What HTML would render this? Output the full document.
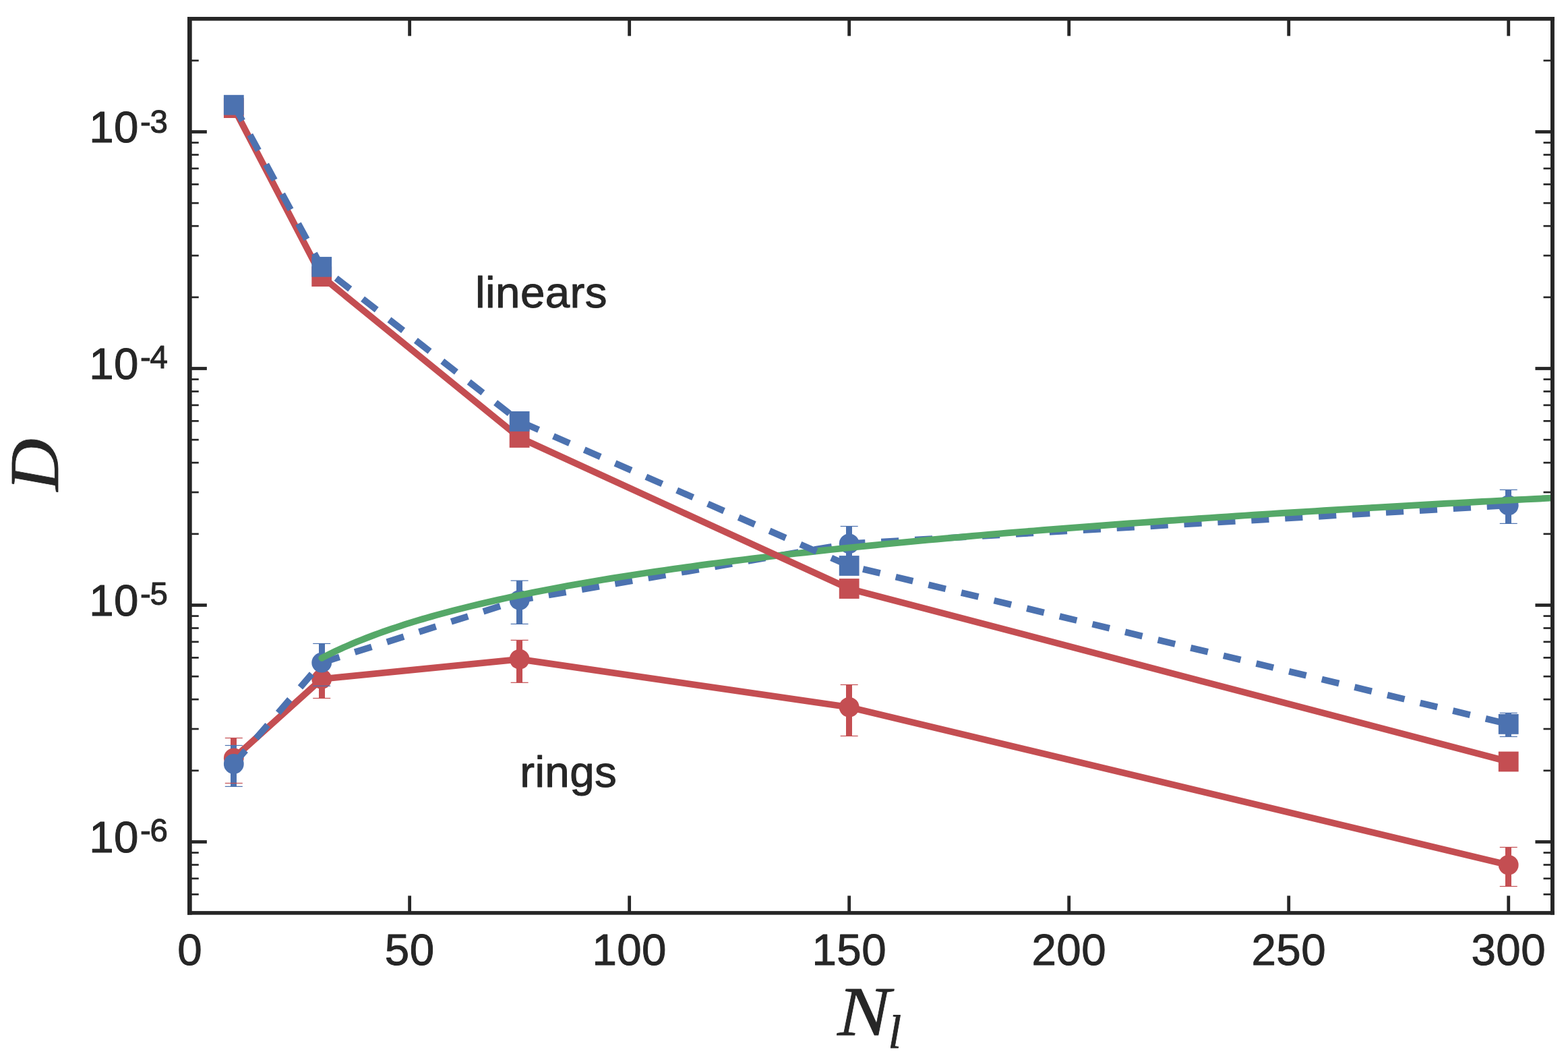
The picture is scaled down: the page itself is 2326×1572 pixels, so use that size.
<!DOCTYPE html>
<html><head><meta charset="utf-8"><title>D vs N_l</title><style>html,body{margin:0;padding:0;background:#fff;overflow:hidden}svg{display:block}</style></head><body>
<svg width="2326" height="1572" viewBox="0 0 2326 1572">
<rect width="2326" height="1572" fill="#fff"/>
<defs><clipPath id="ax"><rect x="281.35" y="27.9" width="2021.6" height="1326"/></clipPath></defs>
<g clip-path="url(#ax)">
<rect x="342" y="1094.5" width="9" height="67" fill="#C44E52"/>
<rect x="473" y="983" width="9" height="52.5" fill="#C44E52"/>
<rect x="766" y="949.4" width="9" height="62.9" fill="#C44E52"/>
<rect x="1255" y="1015.5" width="9" height="76" fill="#C44E52"/>
<rect x="2233" y="1256.5" width="9" height="58" fill="#C44E52"/>
<rect x="342" y="1105.5" width="9" height="60.9" fill="#4C72B0"/>
<rect x="473" y="954.46" width="9" height="62.84" fill="#4C72B0"/>
<rect x="766" y="861.1" width="9" height="64.3" fill="#4C72B0"/>
<rect x="1255" y="780.5" width="9" height="56.87" fill="#4C72B0"/>
<rect x="2233" y="726.4" width="9" height="50" fill="#4C72B0"/>
<rect x="2233" y="1057.4" width="9" height="35.1" fill="#4C72B0"/>
<polyline points="346.81,1124.35 477.22,1007 770.64,977.6 1259.68,1048.8 2237.75,1282.8" fill="none" stroke="#C44E52" stroke-width="9.7" stroke-linejoin="round" stroke-linecap="round"/>
<circle cx="346.81" cy="1124.35" r="14.9" fill="#C44E52"/>
<circle cx="477.22" cy="1007" r="14.9" fill="#C44E52"/>
<circle cx="770.64" cy="977.6" r="14.9" fill="#C44E52"/>
<circle cx="1259.68" cy="1048.8" r="14.9" fill="#C44E52"/>
<circle cx="2237.75" cy="1282.8" r="14.9" fill="#C44E52"/>
<rect x="333.81" y="1093.9" width="26" height="1.2" fill="#C44E52"/>
<rect x="333.81" y="1160.9" width="26" height="1.2" fill="#C44E52"/>
<rect x="464.22" y="982.4" width="26" height="1.2" fill="#C44E52"/>
<rect x="464.22" y="1034.9" width="26" height="1.2" fill="#C44E52"/>
<rect x="757.64" y="948.8" width="26" height="1.2" fill="#C44E52"/>
<rect x="757.64" y="1011.7" width="26" height="1.2" fill="#C44E52"/>
<rect x="1246.68" y="1014.9" width="26" height="1.2" fill="#C44E52"/>
<rect x="1246.68" y="1090.9" width="26" height="1.2" fill="#C44E52"/>
<rect x="2224.75" y="1255.9" width="26" height="1.2" fill="#C44E52"/>
<rect x="2224.75" y="1313.9" width="26" height="1.2" fill="#C44E52"/>
<polyline points="346.81,1132.9 477.22,982.7 770.64,889.9 1259.68,806.3 2237.75,749.4" fill="none" stroke="#4C72B0" stroke-width="9.7" stroke-linejoin="round" stroke-dasharray="26.2 23.8" stroke-dashoffset="-0.4" stroke-linecap="butt"/>
<circle cx="346.81" cy="1132.9" r="14.9" fill="#4C72B0"/>
<circle cx="477.22" cy="982.7" r="14.9" fill="#4C72B0"/>
<circle cx="770.64" cy="889.9" r="14.9" fill="#4C72B0"/>
<circle cx="1259.68" cy="806.3" r="14.9" fill="#4C72B0"/>
<circle cx="2237.75" cy="749.4" r="14.9" fill="#4C72B0"/>
<rect x="333.81" y="1104.9" width="26" height="1.2" fill="#4C72B0"/>
<rect x="333.81" y="1165.8" width="26" height="1.2" fill="#4C72B0"/>
<rect x="464.22" y="953.86" width="26" height="1.2" fill="#4C72B0"/>
<rect x="464.22" y="1016.7" width="26" height="1.2" fill="#4C72B0"/>
<rect x="757.64" y="860.5" width="26" height="1.2" fill="#4C72B0"/>
<rect x="757.64" y="924.8" width="26" height="1.2" fill="#4C72B0"/>
<rect x="1246.68" y="779.9" width="26" height="1.2" fill="#4C72B0"/>
<rect x="1246.68" y="836.77" width="26" height="1.2" fill="#4C72B0"/>
<rect x="2224.75" y="725.8" width="26" height="1.2" fill="#4C72B0"/>
<rect x="2224.75" y="775.8" width="26" height="1.2" fill="#4C72B0"/>
<polyline points="477.22,975.85 483.74,972.52 490.26,969.29 496.78,966.17 503.3,963.13 509.82,960.19 516.34,957.33 522.86,954.54 529.38,951.83 535.9,949.19 542.42,946.62 548.94,944.11 555.46,941.66 561.98,939.27 568.5,936.93 575.02,934.65 581.54,932.41 588.06,930.23 594.58,928.09 601.1,925.99 607.62,923.94 614.15,921.93 620.67,919.96 627.19,918.02 633.71,916.12 640.23,914.26 646.75,912.42 653.27,910.63 659.79,908.86 666.31,907.12 672.83,905.41 685.87,902.08 698.91,898.85 711.95,895.73 724.99,892.69 738.04,889.75 751.08,886.88 764.12,884.1 777.16,881.39 790.2,878.75 803.24,876.18 816.28,873.67 829.32,871.22 842.36,868.83 855.4,866.49 868.45,864.21 881.49,861.97 894.53,859.79 907.57,857.65 920.61,855.55 933.65,853.5 946.69,851.49 959.73,849.51 972.77,847.58 985.81,845.68 998.86,843.81 1011.9,841.98 1024.94,840.18 1037.98,838.42 1051.02,836.68 1064.06,834.97 1077.1,833.29 1090.14,831.64 1103.18,830.01 1116.22,828.41 1129.27,826.84 1142.31,825.29 1155.35,823.76 1168.39,822.25 1181.43,820.77 1194.47,819.31 1207.51,817.86 1220.55,816.44 1233.59,815.04 1246.63,813.66 1259.68,812.29 1272.72,810.95 1285.76,809.62 1298.8,808.31 1311.84,807.01 1324.88,805.74 1337.92,804.47 1350.96,803.23 1364,801.99 1377.04,800.78 1390.09,799.57 1403.13,798.39 1416.17,797.21 1429.21,796.05 1442.25,794.9 1455.29,793.77 1468.33,792.64 1481.37,791.53 1494.41,790.43 1507.45,789.35 1520.49,788.27 1533.54,787.21 1546.58,786.15 1559.62,785.11 1572.66,784.08 1585.7,783.06 1598.74,782.05 1611.78,781.05 1624.82,780.06 1637.86,779.07 1650.91,778.1 1663.95,777.14 1676.99,776.18 1690.03,775.24 1703.07,774.3 1716.11,773.37 1729.15,772.45 1742.19,771.54 1755.23,770.64 1768.27,769.74 1781.32,768.86 1794.36,767.98 1807.4,767.1 1820.44,766.24 1833.48,765.38 1846.52,764.53 1859.56,763.69 1872.6,762.85 1885.64,762.02 1898.68,761.2 1911.72,760.38 1924.77,759.57 1937.81,758.77 1950.85,757.97 1963.89,757.18 1976.93,756.4 1989.97,755.62 2003.01,754.84 2016.05,754.08 2029.09,753.32 2042.14,752.56 2055.18,751.81 2068.22,751.07 2081.26,750.33 2094.3,749.59 2107.34,748.87 2120.38,748.14 2133.42,747.42 2146.46,746.71 2159.5,746 2172.55,745.3 2185.59,744.6 2198.63,743.91 2211.67,743.22 2224.71,742.53 2237.75,741.85 2250.79,741.18 2263.83,740.51 2276.87,739.84 2289.91,739.18 2302.95,738.52 2316,737.87" fill="none" stroke="#55A868" stroke-width="9.7" stroke-linecap="round" stroke-linejoin="round"/>
<polyline points="346.81,160.1 477.22,410.1 770.64,649 1259.68,873 2237.75,1129.5" fill="none" stroke="#C44E52" stroke-width="9.7" stroke-linejoin="round" stroke-linecap="round"/>
<rect x="331.91" y="145.2" width="29.8" height="29.8" fill="#C44E52"/>
<rect x="462.32" y="395.2" width="29.8" height="29.8" fill="#C44E52"/>
<rect x="755.74" y="634.1" width="29.8" height="29.8" fill="#C44E52"/>
<rect x="1244.78" y="858.1" width="29.8" height="29.8" fill="#C44E52"/>
<rect x="2222.85" y="1114.6" width="29.8" height="29.8" fill="#C44E52"/>
<polyline points="346.81,155.7 477.22,395.8 770.64,624.9 1259.68,839 2237.75,1073.9" fill="none" stroke="#4C72B0" stroke-width="9.7" stroke-linejoin="round" stroke-dasharray="26.2 23.8" stroke-dashoffset="-0.4" stroke-linecap="butt"/>
<rect x="331.91" y="140.8" width="29.8" height="29.8" fill="#4C72B0"/>
<rect x="462.32" y="380.9" width="29.8" height="29.8" fill="#4C72B0"/>
<rect x="755.74" y="610" width="29.8" height="29.8" fill="#4C72B0"/>
<rect x="1244.78" y="824.1" width="29.8" height="29.8" fill="#4C72B0"/>
<rect x="2222.85" y="1059" width="29.8" height="29.8" fill="#4C72B0"/>
<rect x="2224.75" y="1056.8" width="26" height="1.2" fill="#4C72B0"/>
<rect x="2224.75" y="1091.9" width="26" height="1.2" fill="#4C72B0"/>
</g>
<rect x="281.35" y="1352.81" width="13.4" height="2.7" fill="#262626"/>
<rect x="2289.55" y="1352.81" width="13.4" height="2.7" fill="#262626"/>
<rect x="281.35" y="1325.02" width="13.4" height="2.7" fill="#262626"/>
<rect x="2289.55" y="1325.02" width="13.4" height="2.7" fill="#262626"/>
<rect x="281.35" y="1301.52" width="13.4" height="2.7" fill="#262626"/>
<rect x="2289.55" y="1301.52" width="13.4" height="2.7" fill="#262626"/>
<rect x="281.35" y="1281.17" width="13.4" height="2.7" fill="#262626"/>
<rect x="2289.55" y="1281.17" width="13.4" height="2.7" fill="#262626"/>
<rect x="281.35" y="1263.21" width="13.4" height="2.7" fill="#262626"/>
<rect x="2289.55" y="1263.21" width="13.4" height="2.7" fill="#262626"/>
<rect x="281.35" y="1246.1" width="25.5" height="4.8" fill="#262626"/>
<rect x="2277.45" y="1246.1" width="25.5" height="4.8" fill="#262626"/>
<rect x="281.35" y="1141.49" width="13.4" height="2.7" fill="#262626"/>
<rect x="2289.55" y="1141.49" width="13.4" height="2.7" fill="#262626"/>
<rect x="281.35" y="1079.68" width="13.4" height="2.7" fill="#262626"/>
<rect x="2289.55" y="1079.68" width="13.4" height="2.7" fill="#262626"/>
<rect x="281.35" y="1035.83" width="13.4" height="2.7" fill="#262626"/>
<rect x="2289.55" y="1035.83" width="13.4" height="2.7" fill="#262626"/>
<rect x="281.35" y="1001.81" width="13.4" height="2.7" fill="#262626"/>
<rect x="2289.55" y="1001.81" width="13.4" height="2.7" fill="#262626"/>
<rect x="281.35" y="974.02" width="13.4" height="2.7" fill="#262626"/>
<rect x="2289.55" y="974.02" width="13.4" height="2.7" fill="#262626"/>
<rect x="281.35" y="950.52" width="13.4" height="2.7" fill="#262626"/>
<rect x="2289.55" y="950.52" width="13.4" height="2.7" fill="#262626"/>
<rect x="281.35" y="930.17" width="13.4" height="2.7" fill="#262626"/>
<rect x="2289.55" y="930.17" width="13.4" height="2.7" fill="#262626"/>
<rect x="281.35" y="912.21" width="13.4" height="2.7" fill="#262626"/>
<rect x="2289.55" y="912.21" width="13.4" height="2.7" fill="#262626"/>
<rect x="281.35" y="895.1" width="25.5" height="4.8" fill="#262626"/>
<rect x="2277.45" y="895.1" width="25.5" height="4.8" fill="#262626"/>
<rect x="281.35" y="790.49" width="13.4" height="2.7" fill="#262626"/>
<rect x="2289.55" y="790.49" width="13.4" height="2.7" fill="#262626"/>
<rect x="281.35" y="728.68" width="13.4" height="2.7" fill="#262626"/>
<rect x="2289.55" y="728.68" width="13.4" height="2.7" fill="#262626"/>
<rect x="281.35" y="684.83" width="13.4" height="2.7" fill="#262626"/>
<rect x="2289.55" y="684.83" width="13.4" height="2.7" fill="#262626"/>
<rect x="281.35" y="650.81" width="13.4" height="2.7" fill="#262626"/>
<rect x="2289.55" y="650.81" width="13.4" height="2.7" fill="#262626"/>
<rect x="281.35" y="623.02" width="13.4" height="2.7" fill="#262626"/>
<rect x="2289.55" y="623.02" width="13.4" height="2.7" fill="#262626"/>
<rect x="281.35" y="599.52" width="13.4" height="2.7" fill="#262626"/>
<rect x="2289.55" y="599.52" width="13.4" height="2.7" fill="#262626"/>
<rect x="281.35" y="579.17" width="13.4" height="2.7" fill="#262626"/>
<rect x="2289.55" y="579.17" width="13.4" height="2.7" fill="#262626"/>
<rect x="281.35" y="561.21" width="13.4" height="2.7" fill="#262626"/>
<rect x="2289.55" y="561.21" width="13.4" height="2.7" fill="#262626"/>
<rect x="281.35" y="544.1" width="25.5" height="4.8" fill="#262626"/>
<rect x="2277.45" y="544.1" width="25.5" height="4.8" fill="#262626"/>
<rect x="281.35" y="439.49" width="13.4" height="2.7" fill="#262626"/>
<rect x="2289.55" y="439.49" width="13.4" height="2.7" fill="#262626"/>
<rect x="281.35" y="377.68" width="13.4" height="2.7" fill="#262626"/>
<rect x="2289.55" y="377.68" width="13.4" height="2.7" fill="#262626"/>
<rect x="281.35" y="333.83" width="13.4" height="2.7" fill="#262626"/>
<rect x="2289.55" y="333.83" width="13.4" height="2.7" fill="#262626"/>
<rect x="281.35" y="299.81" width="13.4" height="2.7" fill="#262626"/>
<rect x="2289.55" y="299.81" width="13.4" height="2.7" fill="#262626"/>
<rect x="281.35" y="272.02" width="13.4" height="2.7" fill="#262626"/>
<rect x="2289.55" y="272.02" width="13.4" height="2.7" fill="#262626"/>
<rect x="281.35" y="248.52" width="13.4" height="2.7" fill="#262626"/>
<rect x="2289.55" y="248.52" width="13.4" height="2.7" fill="#262626"/>
<rect x="281.35" y="228.17" width="13.4" height="2.7" fill="#262626"/>
<rect x="2289.55" y="228.17" width="13.4" height="2.7" fill="#262626"/>
<rect x="281.35" y="210.21" width="13.4" height="2.7" fill="#262626"/>
<rect x="2289.55" y="210.21" width="13.4" height="2.7" fill="#262626"/>
<rect x="281.35" y="193.1" width="25.5" height="4.8" fill="#262626"/>
<rect x="2277.45" y="193.1" width="25.5" height="4.8" fill="#262626"/>
<rect x="281.35" y="88.49" width="13.4" height="2.7" fill="#262626"/>
<rect x="2289.55" y="88.49" width="13.4" height="2.7" fill="#262626"/>
<rect x="281.35" y="26.68" width="13.4" height="2.7" fill="#262626"/>
<rect x="2289.55" y="26.68" width="13.4" height="2.7" fill="#262626"/>
<rect x="279.2" y="1328.4" width="4.8" height="25.5" fill="#262626"/>
<rect x="279.2" y="27.85" width="4.8" height="25.5" fill="#262626"/>
<rect x="605.23" y="1328.4" width="4.8" height="25.5" fill="#262626"/>
<rect x="605.23" y="27.85" width="4.8" height="25.5" fill="#262626"/>
<rect x="931.25" y="1328.4" width="4.8" height="25.5" fill="#262626"/>
<rect x="931.25" y="27.85" width="4.8" height="25.5" fill="#262626"/>
<rect x="1257.28" y="1328.4" width="4.8" height="25.5" fill="#262626"/>
<rect x="1257.28" y="27.85" width="4.8" height="25.5" fill="#262626"/>
<rect x="1583.3" y="1328.4" width="4.8" height="25.5" fill="#262626"/>
<rect x="1583.3" y="27.85" width="4.8" height="25.5" fill="#262626"/>
<rect x="1909.32" y="1328.4" width="4.8" height="25.5" fill="#262626"/>
<rect x="1909.32" y="27.85" width="4.8" height="25.5" fill="#262626"/>
<rect x="2235.35" y="1328.4" width="4.8" height="25.5" fill="#262626"/>
<rect x="2235.35" y="27.85" width="4.8" height="25.5" fill="#262626"/>
<rect x="278" y="25" width="6.7" height="1331.65" fill="#262626"/>
<rect x="2300" y="25" width="5.9" height="1331.65" fill="#262626"/>
<rect x="278" y="25" width="2027.9" height="5.7" fill="#262626"/>
<rect x="278" y="1351.1" width="2027.9" height="5.55" fill="#262626"/>
<g font-family="'Liberation Sans', Arial, sans-serif" fill="#262626" stroke="#262626" stroke-width="1" stroke-linejoin="round">
<text x="132.31" y="211" font-size="65.5" letter-spacing="0.4">10<tspan dx="2.02" dy="-14" font-size="47.5" letter-spacing="0">-</tspan><tspan dx="-1.2" font-size="47.5" letter-spacing="0">3</tspan></text>
<text x="132.31" y="562" font-size="65.5" letter-spacing="0.4">10<tspan dx="2.02" dy="-16" font-size="47.5" letter-spacing="0">-</tspan><tspan dx="-1.2" font-size="47.5" letter-spacing="0">4</tspan></text>
<text x="132.31" y="913" font-size="65.5" letter-spacing="0.4">10<tspan dx="2.02" dy="-16" font-size="47.5" letter-spacing="0">-</tspan><tspan dx="-1.2" font-size="47.5" letter-spacing="0">5</tspan></text>
<text x="132.31" y="1264" font-size="65.5" letter-spacing="0.4">10<tspan dx="2.02" dy="-16" font-size="47.5" letter-spacing="0">-</tspan><tspan dx="-1.2" font-size="47.5" letter-spacing="0">6</tspan></text>
<text x="281.65" y="1431" font-size="65.5" letter-spacing="0.4" text-anchor="middle">0</text>
<text x="607.67" y="1431" font-size="65.5" letter-spacing="0.4" text-anchor="middle">50</text>
<text x="933.7" y="1431" font-size="65.5" letter-spacing="0.4" text-anchor="middle">100</text>
<text x="1259.73" y="1431" font-size="65.5" letter-spacing="0.4" text-anchor="middle">150</text>
<text x="1585.75" y="1431" font-size="65.5" letter-spacing="0.4" text-anchor="middle">200</text>
<text x="1911.77" y="1431" font-size="65.5" letter-spacing="0.4" text-anchor="middle">250</text>
<text x="2237.8" y="1431" font-size="65.5" letter-spacing="0.4" text-anchor="middle">300</text>
<text x="705.09" y="456" font-size="65.5" letter-spacing="0.43">linears</text>
<text x="771.15" y="1167" font-size="65.5" letter-spacing="0.43">rings</text>
</g>
<g font-family="'Liberation Serif', 'Times New Roman', serif" font-style="italic" fill="#262626" stroke="#262626" stroke-width="0.8" stroke-linejoin="round">
<text transform="translate(86.3,728.3) rotate(-90) scale(1.038,1)" font-size="104">D</text>
<text transform="translate(1242.26,1535.4) scale(1.134,1)" font-size="104">N</text>
<text x="1317.6" y="1553.6" font-size="70.5">l</text>
</g>
</svg></body></html>
